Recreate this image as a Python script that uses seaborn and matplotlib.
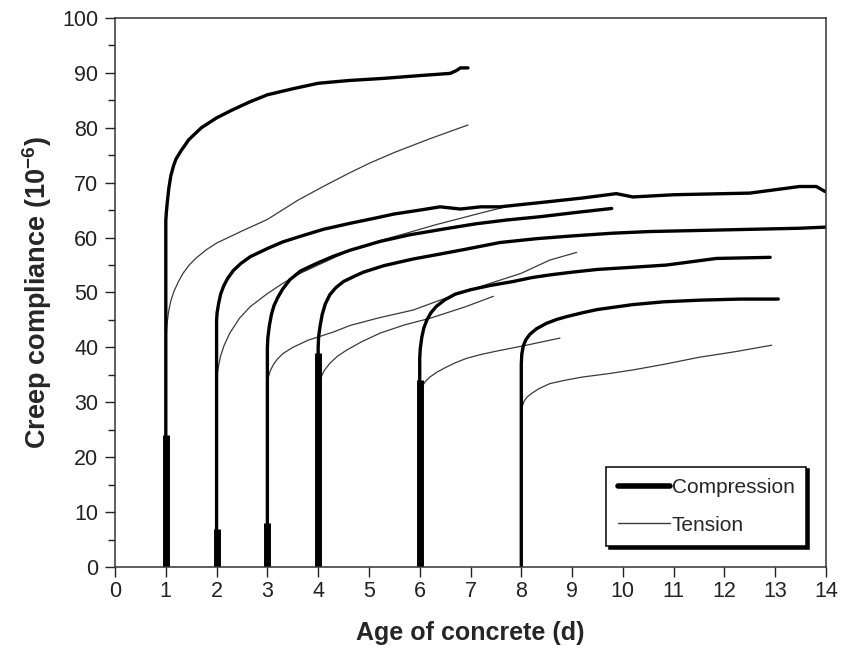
import numpy as np
import pandas as pd
import matplotlib
matplotlib.use('Agg')
import matplotlib.pyplot as plt
from matplotlib.lines import Line2D
from matplotlib.ticker import MultipleLocator
import seaborn as sns

# Curvas de fluencia (edad en días, compliance en 1e-6)
comp_1_x = [1, 1, 1.01, 1.03, 1.06, 1.1, 1.15, 1.2, 1.3, 1.45, 1.7, 2.0, 2.3, 2.65, 3.0, 3.5, 4.0, 4.6, 5.3, 6.0, 6.6, 6.72, 6.8, 6.95]
comp_1_y = [0, 63, 64.5, 66.5, 69, 71.3, 73, 74.3, 75.8, 77.8, 80, 81.8, 83.2, 84.7, 86, 87.1, 88.1, 88.6, 89, 89.5, 89.9, 90.4, 90.9, 90.9]
comp_2_x = [2, 2, 2.01, 2.04, 2.08, 2.14, 2.22, 2.33, 2.48, 2.66, 3.0, 3.3, 3.64, 4.1, 4.63, 5.1, 5.5, 6.0, 6.4, 6.8, 7.2, 7.58, 8.5, 9.2, 9.87, 10.2, 11, 12.5, 13.48, 13.81, 13.98]
comp_2_y = [0, 45, 46.3, 48, 49.7, 51.2, 52.6, 54, 55.3, 56.5, 58, 59.2, 60.2, 61.5, 62.6, 63.5, 64.3, 65, 65.6, 65.2, 65.6, 65.6, 66.5, 67.2, 68, 67.4, 67.8, 68.1, 69.3, 69.3, 68.4]
comp_3_x = [3, 3, 3.01, 3.04, 3.08, 3.13, 3.2, 3.3, 3.44, 3.65, 3.97, 4.3, 4.63, 5.22, 5.8, 6.5, 7.1, 7.71, 8.37, 9.1, 9.78]
comp_3_y = [0, 40, 41.8, 44, 46, 47.6, 49, 50.6, 52.3, 53.9, 55.3, 56.6, 57.7, 59.3, 60.5, 61.6, 62.5, 63.2, 63.8, 64.6, 65.3]
comp_4_x = [4, 4, 4.01, 4.04, 4.08, 4.14, 4.23, 4.35, 4.5, 4.7, 4.89, 5.3, 5.87, 6.4, 6.86, 7.58, 8.3, 9.0, 9.8, 10.53, 12.0, 13.48, 13.98]
comp_4_y = [0, 40, 42, 44, 46, 47.9, 49.6, 50.9, 52, 52.9, 53.7, 54.9, 56.1, 57, 57.8, 59.1, 59.8, 60.3, 60.8, 61.1, 61.4, 61.7, 61.9]
comp_6_x = [6, 6, 6.01, 6.04, 6.08, 6.14, 6.22, 6.33, 6.5, 6.7, 7.0, 7.4, 7.84, 8.2, 8.56, 9.0, 9.5, 10.2, 10.86, 11.84, 12.9]
comp_6_y = [0, 38, 39.7, 41.8, 43.5, 45, 46.3, 47.5, 48.7, 49.7, 50.5, 51.3, 52, 52.7, 53.2, 53.7, 54.2, 54.6, 55, 56.2, 56.4]
comp_8_x = [8, 8, 8.01, 8.04, 8.09, 8.17, 8.3, 8.5, 8.7, 8.89, 9.2, 9.5, 10.2, 10.8, 11.5, 12.3, 13.06]
comp_8_y = [0, 37, 38.8, 40.3, 41.4, 42.4, 43.4, 44.4, 45.1, 45.6, 46.3, 46.9, 47.8, 48.3, 48.6, 48.8, 48.8]

tens_1_x = [1.0, 1.0, 1.01, 1.03, 1.06, 1.1, 1.16, 1.25, 1.34, 1.46, 1.6, 1.8, 2.0, 2.5, 3.0, 3.6, 4.1, 4.6, 5.0, 5.5, 6.2, 6.95]
tens_1_y = [0, 40, 42.5, 44.8, 46.8, 48.5, 50.2, 52, 53.5, 55, 56.3, 57.8, 59, 61.2, 63.3, 66.8, 69.3, 71.7, 73.5, 75.5, 78, 80.5]
tens_2_x = [2.0, 2.0, 2.01, 2.04, 2.08, 2.15, 2.26, 2.45, 2.66, 3.0, 3.31, 3.65, 4.0, 4.63, 5.2, 5.74, 6.3, 6.8, 7.3, 7.78]
tens_2_y = [0, 33, 35, 36.7, 38.5, 40.4, 42.6, 45.3, 47.4, 49.8, 51.7, 53.5, 55, 57.7, 59.4, 60.8, 62.3, 63.5, 64.7, 65.8]
tens_3_x = [3.0, 3.0, 3.02, 3.06, 3.12, 3.2, 3.31, 3.5, 3.8, 4.3, 4.63, 5.2, 5.87, 6.4, 7.0, 7.5, 8.0, 8.56, 9.09]
tens_3_y = [0, 33, 34.6, 35.8, 36.9, 37.9, 38.9, 40, 41.3, 42.8, 44, 45.4, 46.8, 48.6, 50.5, 52, 53.5, 55.9, 57.3]
tens_4_x = [4.0, 4.0, 4.02, 4.06, 4.12, 4.23, 4.38, 4.56, 4.85, 5.22, 5.7, 6.2, 6.9, 7.45]
tens_4_y = [0, 32, 33.3, 34.6, 35.8, 37.1, 38.4, 39.5, 41, 42.6, 44.1, 45.3, 47.4, 49.3]
tens_6_x = [6.0, 6.0, 6.02, 6.06, 6.12, 6.2, 6.34, 6.5, 6.7, 6.92, 7.2, 7.5, 8.1, 8.76]
tens_6_y = [0, 31, 32.1, 33.1, 33.9, 34.6, 35.5, 36.3, 37.2, 38, 38.7, 39.3, 40.4, 41.7]
tens_8_x = [8.0, 8.0, 8.02, 8.06, 8.12, 8.2, 8.35, 8.56, 8.85, 9.2, 9.7, 10.2, 10.8, 11.5, 12.2, 12.93]
tens_8_y = [0, 28, 29.3, 30.3, 31, 31.6, 32.5, 33.4, 34, 34.6, 35.2, 35.9, 36.9, 38.2, 39.2, 40.4]

# Tramo de carga (zona gruesa en la base de cada vertical)
load_ages = [1, 2, 3, 4, 6]
load_heights = [24, 7, 8, 39, 34]

x_ticks = list(range(0, 15))
y_ticks = list(range(0, 101, 10))

compresion = [(comp_1_x, comp_1_y), (comp_2_x, comp_2_y), (comp_3_x, comp_3_y),
              (comp_4_x, comp_4_y), (comp_6_x, comp_6_y), (comp_8_x, comp_8_y)]
traccion = [(tens_1_x, tens_1_y), (tens_2_x, tens_2_y), (tens_3_x, tens_3_y),
            (tens_4_x, tens_4_y), (tens_6_x, tens_6_y), (tens_8_x, tens_8_y)]

sns.set_style('ticks')
plt.rcParams['font.family'] = ['Liberation Sans', 'DejaVu Sans']
plt.rcParams['mathtext.default'] = 'regular'

fig = plt.figure(figsize=(8.42, 6.64), dpi=100)
ax = fig.add_axes([0.1366, 0.146, 0.8444, 0.827])

for xs, ys in traccion:
    df = pd.DataFrame({'edad': xs, 'fluencia': ys})
    sns.lineplot(data=df, x='edad', y='fluencia', sort=False, estimator=None,
                 color='#3a3a3a', linewidth=0.9, ax=ax, legend=False)

for xs, ys in compresion:
    df = pd.DataFrame({'edad': xs, 'fluencia': ys})
    sns.lineplot(data=df, x='edad', y='fluencia', sort=False, estimator=None,
                 color='black', linewidth=2.4, ax=ax, legend=False)

ax.vlines(load_ages, 0, load_heights, color='black', linewidth=5)

ax.set_xlim(0, 14)
ax.set_ylim(0, 100)
ax.set_xticks(x_ticks)
ax.set_yticks(y_ticks)
ax.yaxis.set_minor_locator(MultipleLocator(5))
ax.tick_params(axis='both', which='major', direction='out', length=7, width=1,
               labelsize=15.5, colors='#222222', pad=5)
ax.tick_params(axis='y', which='minor', direction='out', length=5, width=1, colors='#222222')
ax.tick_params(axis='x', pad=3)
for s in ax.spines.values():
    s.set_visible(True)
    s.set_linewidth(1.1)
    s.set_color('#333333')

ax.set_xlabel('Age of concrete (d)', fontsize=18, fontweight='bold', labelpad=14)
ax.set_ylabel('Creep compliance (10$^{-6}$)', fontsize=19.5, fontweight='bold', labelpad=6)

handles = [Line2D([], [], color='black', linewidth=4),
           Line2D([], [], color='#3a3a3a', linewidth=1)]
leg = ax.legend(handles, ['Compression', 'Tension'], loc='lower right',
                bbox_to_anchor=(0.972, 0.038), fontsize=15, frameon=True,
                fancybox=False, shadow={'color': 'black', 'alpha': 1},
                handlelength=2.5, handletextpad=0.1, labelspacing=0.9,
                borderpad=0.55, borderaxespad=0)
leg.get_frame().set_edgecolor('black')
leg.get_frame().set_linewidth(1.1)
leg.get_frame().set_alpha(1)

plt.savefig('out.png', dpi=100)
plt.close()
